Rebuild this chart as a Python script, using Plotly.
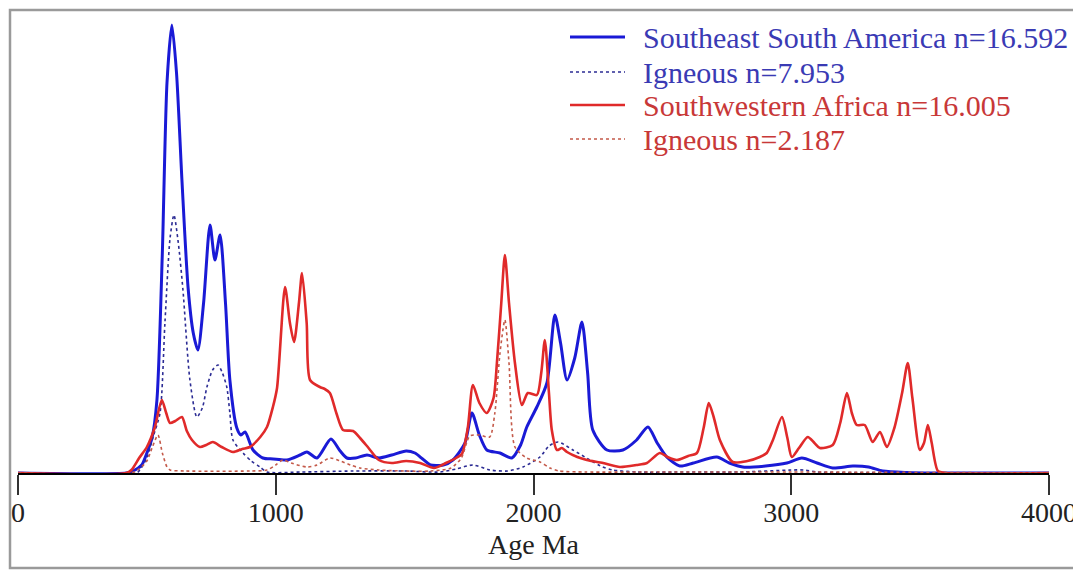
import plotly.graph_objects as go

# ---- data (relative probability, arbitrary units) ----
ssa_age = [0, 420, 446, 480, 500, 520, 539, 560, 578, 597, 615, 636, 660, 680, 698, 720, 745, 764, 784, 805,
           822, 849, 865, 881, 912, 950, 990, 1043, 1094, 1121, 1160, 1214, 1250, 1276, 1310, 1354, 1400, 1450,
           1506, 1540, 1570, 1600, 1650, 1687, 1734, 1761, 1790, 1819, 1870, 1916, 1950, 1974, 2013, 2052, 2083,
           2105, 2130, 2160, 2188, 2210, 2230, 2285, 2347, 2400, 2444, 2480, 2517, 2568, 2620, 2711, 2760, 2812,
           2900, 2983, 3041, 3100, 3161, 3239, 3300, 3355, 3450, 3550, 4000]
ssa_val = [0, 0, 2, 8, 20, 35, 73, 220, 390, 448, 400, 293, 185, 140, 123, 170, 248, 213, 238, 170,
           93, 45, 38, 41, 23, 15, 14, 13, 18, 21, 15, 34, 22, 15, 15, 18, 15, 18,
           22, 20, 14, 8, 8, 13, 30, 60, 38, 23, 20, 15, 28, 46, 66, 90, 158,
           130, 93, 115, 151, 100, 43, 23, 23, 33, 46, 30, 16, 7, 10, 16, 10, 6,
           7, 10, 15, 10, 5, 7, 6, 2, 0.5, 0, 0]

ssa_ign_age = [0, 460, 473, 500, 524, 551, 570, 590, 605, 622, 640, 667, 694, 715, 733, 755, 776, 793, 810,
               822, 834, 873, 905, 939, 966, 1100, 1300, 1500, 1637, 1700, 1765, 1831, 1900, 1959, 2025, 2060,
               2095, 2153, 2219, 2260, 2308, 2400, 2600, 2800, 3000, 3050, 3100, 3300, 3500, 4000]
ssa_ign_val = [0, 0, 3, 15, 36, 60, 150, 235, 258, 230, 183, 93, 56, 65, 86, 103, 108, 100, 86,
               60, 33, 20, 12, 6, 1, 1, 2, 2, 1, 4, 8, 3, 2, 6, 16, 27,
               31, 23, 13, 7, 3, 1, 1, 1, 3, 3, 1, 0.5, 0, 0]

swa_age = [0, 420, 440, 470, 500, 530, 558, 575, 590, 610, 636, 655, 675, 706, 730, 756, 790, 834, 870, 900,
           940, 966, 989, 1005, 1036, 1055, 1071, 1090, 1102, 1120, 1133, 1171, 1190, 1210, 1235, 1261, 1300,
           1327, 1360, 1400, 1450, 1506, 1560, 1614, 1660, 1700, 1722, 1745, 1765, 1790, 1819, 1845, 1858,
           1875, 1889, 1905, 1928, 1955, 1978, 2013, 2030, 2044, 2060, 2071, 2091, 2110, 2130, 2170, 2207,
           2270, 2335, 2400, 2440, 2490, 2520, 2556, 2600, 2634, 2660, 2680, 2700, 2723, 2773, 2830, 2878,
           2905, 2929, 2964, 2985, 3002, 3030, 3064, 3090, 3111, 3161, 3190, 3216, 3235, 3254, 3285, 3316,
           3344, 3371, 3400, 3430, 3452, 3470, 3499, 3515, 3530, 3545, 3569, 3600, 4000]
swa_val = [0, 0, 3, 15, 26, 45, 73, 60, 50, 52, 56, 42, 33, 26, 28, 31, 26, 21, 24, 26,
           36, 46, 66, 85, 186, 150, 131, 170, 200, 150, 93, 86, 84, 80, 60, 43, 42,
           35, 25, 13, 10, 12, 10, 5, 10, 15, 19, 45, 88, 70, 60, 75, 110,
           170, 218, 170, 110, 68, 80, 78, 100, 133, 80, 43, 23, 25, 21, 16, 13,
           10, 6, 8, 10, 20, 16, 13, 17, 20, 45, 70, 55, 33, 11, 12, 16,
           20, 33, 56, 35, 16, 25, 36, 30, 25, 28, 50, 80, 60, 48, 48, 31,
           41, 26, 45, 80, 110, 75, 23, 30, 48, 30, 2, 0, 0]

swa_ign_age = [0, 440, 470, 500, 520, 543, 560, 578, 590, 650, 900, 966, 1000, 1028, 1060, 1121, 1160, 1210,
               1250, 1290, 1327, 1400, 1500, 1600, 1680, 1720, 1753, 1790, 1830, 1850, 1870, 1889, 1905, 1928,
               1974, 2025, 2064, 2100, 2200, 2500, 3000, 4000]
swa_ign_val = [0, 0, 4, 12, 25, 38, 20, 6, 3, 2, 2, 3, 8, 13, 10, 6, 8, 15,
               12, 8, 5, 3, 2, 2, 5, 15, 37, 38, 36, 60, 120, 153, 110, 26,
               15, 11, 5, 2, 1, 1, 1, 0]

tick_vals = [0, 1000, 2000, 3000, 4000]
tick_text = ["0", "1000", "2000", "3000", "4000"]

names = ["Southeast South America n=16.592", "Igneous n=7.953",
         "Southwestern Africa n=16.005", "Igneous n=2.187"]

BLUE = "#1a1ad6"
BLUE_D = "#2c2c94"
RED = "#e02a2a"
RED_D = "#c45a4a"
BLUE_T = "#3a3ab4"
RED_T = "#c83838"

series = [
    (ssa_age, ssa_val, BLUE, 3.0, "solid", BLUE_T),
    (ssa_ign_age, ssa_ign_val, BLUE_D, 1.6, "3px,3px", BLUE_T),
    (swa_age, swa_val, RED, 2.6, "solid", RED_T),
    (swa_ign_age, swa_ign_val, RED_D, 1.6, "3px,3px", RED_T),
]

# The page body has an 8 px margin, so the figure is 8 px smaller and
# every page-pixel position is shifted by 8 px.
OFF = 8
FW, FH = 1081 - OFF, 572 - OFF
# plot area in page pixels: x 18..1049, baseline y 473, top y 15
PL, PR, PT, PB = 18, 1049, 15, 473
L, T = PL - OFF, PT - OFF
R, B = FW - (PR - OFF), FH - (PB - OFF)
W = PR - PL
H = PB - PT

def px_x(p):
    return (p - PL) / W

def px_y(p):
    return (PB - p) / H

fig = go.Figure()
shapes = [dict(type="rect", xref="paper", yref="paper",
               x0=px_x(10), x1=px_x(1075), y0=px_y(568), y1=px_y(10),
               line=dict(color="#9a9a9a", width=2.5), fillcolor="rgba(0,0,0,0)", layer="below")]
annotations = []
legend_rows = [37, 72, 105, 139]
for (xs, ys, col, wd, dash, tcol), nm, ry in zip(series, names, legend_rows):
    fig.add_trace(go.Scatter(x=xs, y=ys, mode="lines", name=nm, showlegend=False,
                             line=dict(color=col, width=wd, dash=dash, shape="spline", smoothing=0.7)))
    # legend entry (sample line + label)
    shapes.append(dict(type="line", xref="paper", yref="paper",
                       x0=px_x(570), x1=px_x(625), y0=px_y(ry), y1=px_y(ry),
                       line=dict(color=col, width=wd, dash=("dot" if dash != "solid" else "solid"))))
    annotations.append(dict(xref="paper", yref="paper", x=px_x(641), y=px_y(ry),
                            xanchor="left", yanchor="middle", showarrow=False, text=nm,
                            font=dict(size=30, color=tcol)))

fig.update_layout(
    width=FW, height=FH,
    margin=dict(l=L, r=R, t=T, b=B, autoexpand=False),
    paper_bgcolor="white", plot_bgcolor="white",
    font=dict(family="Liberation Serif, Times New Roman, serif", size=28, color="#222222"),
    showlegend=False,
    xaxis=dict(range=[0, 4000], tickvals=tick_vals, ticktext=tick_text, automargin=False,
               showline=True, linecolor="black", linewidth=2,
               ticks="outside", ticklen=20, tickwidth=2, tickcolor="#333333",
               ticklabelstandoff=-7,
               showgrid=False, zeroline=False,
               tickfont=dict(size=28, color="#222222"),
               title=dict(text="Age Ma", font=dict(size=28, color="#222222"), standoff=8)),
    yaxis=dict(range=[0, H], visible=False, showgrid=False, zeroline=False, automargin=False),
    shapes=shapes,
    annotations=annotations,
)

fig.write_html("out.html")
